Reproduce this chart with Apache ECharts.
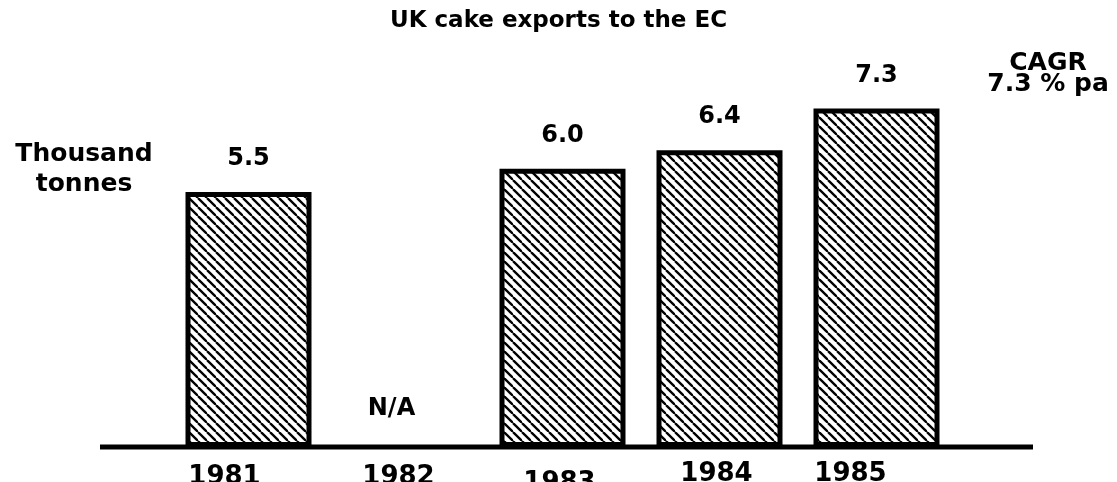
<!DOCTYPE html>
<html><head><meta charset="utf-8">
<script src="https://cdn.jsdelivr.net/npm/echarts@6/dist/echarts.min.js"></script>
<style>html,body{margin:0;padding:0;background:#fff}#c{width:1117px;height:482px}</style>
</head><body><div id="c"></div>
<script>
// ---- data ----
const years = ['1981', '1982', '1983', '1984', '1985'];
const exportsKt = [5.5, null, 6.0, 6.4, 7.3];
const valueLabels = ['5.5', 'N/A', '6.0', '6.4', '7.3'];
const titleText = 'UK cake exports to the EC';
const unitText = 'Thousand\ntonnes';
const cagrText = 'CAGR\n7.3 % pa';
const yMin = 0, yMax = 8;

// ---- style ----
const FONT = '"DejaVu Sans", "Open Sans", sans-serif';
// small hand-placed nudges of the year labels in the original: [dx, dy]
const yearNudge = {'1981': [-24, 0], '1982': [-7, 0], '1983': [-3, 6], '1984': [-3, -3], '1985': [-26, -3]};

function hatch() {
  const s = 9;
  const c = document.createElement('canvas');
  c.width = s; c.height = s;
  const g = c.getContext('2d');
  g.fillStyle = '#fff'; g.fillRect(0, 0, s, s);
  g.strokeStyle = '#000'; g.lineWidth = 2.3;
  for (const k of [-s, 0, s]) { g.beginPath(); g.moveTo(k, 0); g.lineTo(k + s, s); g.stroke(); }
  return c;
}

const rich = {};
years.forEach((y, i) => {
  const [dx, dy] = yearNudge[y];
  rich['y' + i] = {
    fontFamily: FONT, fontWeight: 'bold', fontSize: 26, color: '#000',
    padding: [5 + dy, dx < 0 ? -2 * dx : 0, 0, dx > 0 ? 2 * dx : 0]
  };
});

const chart = echarts.init(document.getElementById('c'), null, {renderer: 'canvas'});
const pattern = {image: hatch(), repeat: 'repeat'};

chart.setOption({
  animation: false,
  backgroundColor: '#fff',
  title: {
    text: titleText, left: 'center', top: 5,
    textStyle: {fontFamily: FONT, fontWeight: 'bold', fontSize: 23, color: '#000'}
  },
  grid: {left: 170, right: 162, top: 76, bottom: 35, containLabel: false, outerBoundsMode: 'none'},
  xAxis: {
    type: 'category', data: years,
    axisLine: {show: false}, axisTick: {show: false}, splitLine: {show: false},
    axisLabel: {
      margin: 12, interval: 0,
      formatter: (v, i) => '{y' + i + '|' + v + '}',
      rich: rich
    }
  },
  yAxis: {type: 'value', min: yMin, max: yMax, show: false},
  series: [{
    type: 'bar',
    data: exportsKt,
    barWidth: 126,
    itemStyle: {color: pattern, borderColor: '#000', borderWidth: 5},
    label: {
      show: true, position: 'top', distance: 21,
      formatter: p => valueLabels[p.dataIndex],
      fontFamily: FONT, fontWeight: 'bold', fontSize: 24, color: '#000'
    }
  }]
});

// N/A annotation above the missing year, placed through the axis scale
const naIdx = exportsKt.findIndex(v => v == null);
const naPt = chart.convertToPixel({gridIndex: 0}, [years[naIdx], 0]);

chart.setOption({
  graphic: [
    {type: 'line', z: 100, shape: {x1: 100, y1: 447, x2: 1033, y2: 447},
     style: {stroke: '#000', lineWidth: 5}},
    {type: 'text', z: 100, x: naPt[0] - 14, y: naPt[1] - 26,
     style: {text: valueLabels[naIdx], fontFamily: FONT, fontWeight: 'bold', fontSize: 24,
             fill: '#000', align: 'center', verticalAlign: 'bottom'}},
    {type: 'text', z: 100, x: 84, y: 139,
     style: {text: unitText, fontFamily: FONT, fontWeight: 'bold', fontSize: 25, lineHeight: 30,
             fill: '#000', align: 'center', verticalAlign: 'top'}},
    {type: 'text', z: 100, x: 1048, y: 53,
     style: {text: cagrText, fontFamily: FONT, fontWeight: 'bold', fontSize: 25, lineHeight: 21,
             fill: '#000', align: 'center', verticalAlign: 'top'}}
  ]
});
</script>
</body></html>
